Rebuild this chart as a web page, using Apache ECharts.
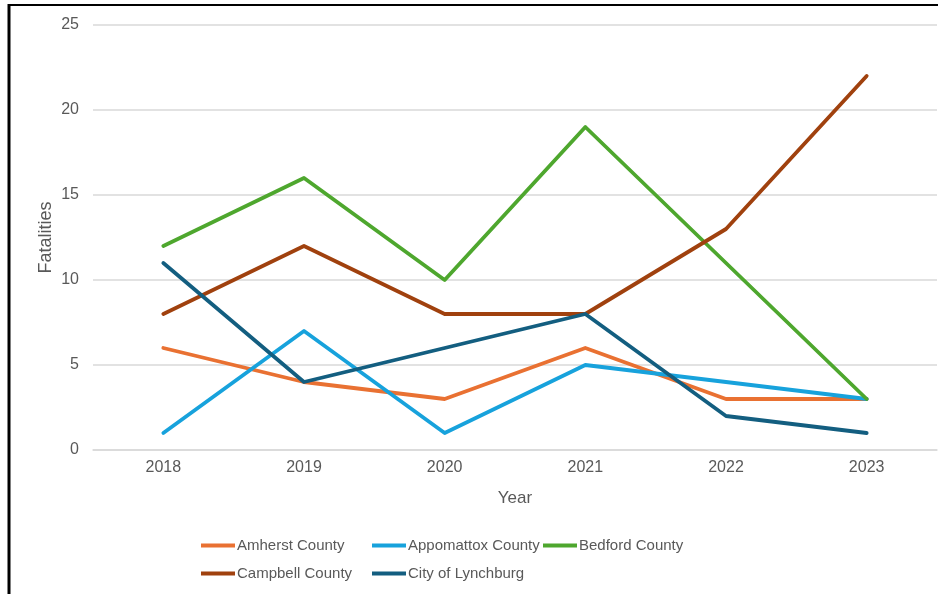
<!DOCTYPE html>
<html><head><meta charset="utf-8">
<script src="https://cdn.jsdelivr.net/npm/echarts@6/dist/echarts.min.js"></script>
<style>html,body{margin:0;padding:0;background:#fff}#c{width:948px;height:594px}</style>
</head><body><div id="c"></div>
<script>
const years = ['2018','2019','2020','2021','2022','2023'];
const seriesNames = ['Amherst County','Appomattox County','Bedford County','Campbell County','City of Lynchburg'];
const amherst = [6,4,3,6,3,3];
const appomattox = [1,7,1,5,4,3];
const bedford = [12,16,10,19,11,3];
const campbell = [8,12,8,8,13,22];
const lynchburg = [11,4,6,8,2,1];
const colors = ['#E97132','#17A2DC','#4EA72E','#A0410E','#135E80'];
const values = [amherst, appomattox, bedford, campbell, lynchburg];

const chart = echarts.init(document.getElementById('c'), null, {renderer:'canvas'});
const font = 'Liberation Sans, Arial, sans-serif';
const legendPos = [[201,538],[372,538],[543,538],[201,566],[372,566]];
const legends = seriesNames.map((n,i)=>({
  left:legendPos[i][0], top:legendPos[i][1], padding:0, data:[n],
  itemWidth:34, itemHeight:14, itemGap:0,
  icon:'path://M0,5 L34,5 L34,9 L0,9 Z',
  textStyle:{color:'#595959', fontSize:15, fontFamily:font, padding:[0,0,0,-3]}
}));
chart.setOption({
  animation:false,
  color: colors,
  textStyle:{fontFamily:font},
  graphic:[
    {type:'line', shape:{x1:9, y1:5, x2:938, y2:5}, style:{stroke:'#000', lineWidth:2}, z:100},
    {type:'line', shape:{x1:9, y1:4, x2:9, y2:594}, style:{stroke:'#000', lineWidth:3}, z:100}
  ],
  grid:{left:93, right:11, top:25, bottom:144, containLabel:false},
  legend: legends,
  xAxis:{
    type:'category', data:years, boundaryGap:true,
    name:'Year', nameLocation:'middle', nameGap:40, nameMoveOverlap:false,
    nameTextStyle:{color:'#595959', fontSize:17, fontFamily:font},
    axisLine:{show:true, lineStyle:{color:'#d9d9d9', width:1.5}},
    axisTick:{show:false},
    axisLabel:{color:'#595959', fontSize:16, margin:10, fontFamily:font}
  },
  yAxis:{
    type:'value', min:0, max:25, interval:5,
    name:'Fatalities', nameLocation:'middle', nameGap:38, nameRotate:90, nameMoveOverlap:false,
    nameTextStyle:{color:'#595959', fontSize:18, fontFamily:font},
    axisLine:{show:false}, axisTick:{show:false},
    axisLabel:{color:'#595959', fontSize:16, margin:14, fontFamily:font},
    splitLine:{lineStyle:{color:'#d9d9d9', width:1.5}}
  },
  series: seriesNames.map((n,i)=>({
    name:n, type:'line', data:values[i], symbol:'none', showSymbol:false,
    lineStyle:{width:3.8, color:colors[i], cap:'round', join:'round'},
    itemStyle:{color:colors[i]}
  }))
});
</script></body></html>
